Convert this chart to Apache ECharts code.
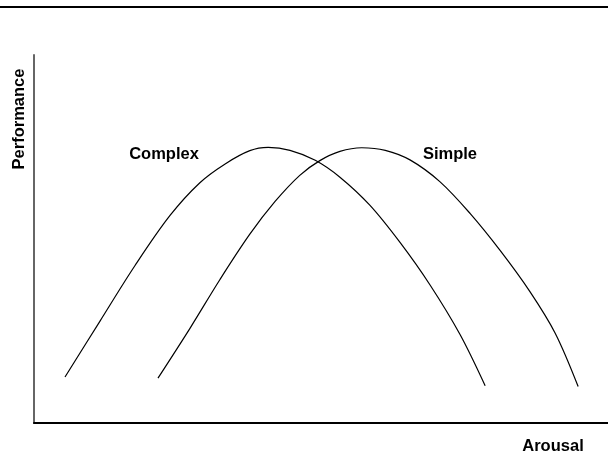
<!DOCTYPE html>
<html>
<head>
<meta charset="utf-8">
<script src="https://cdn.jsdelivr.net/npm/echarts@6/dist/echarts.min.js"></script>
<style>
  html, body { margin: 0; padding: 0; background: #fff; }
  #main { width: 608px; height: 454px; }
</style>
</head>
<body>
<div id="main"></div>
<script>
// arousal (x) and performance (y), both on a 0-100 scale
const complexX = [5.4, 11.5, 17.6, 23.7, 28.9, 33.3, 37.6, 40.8, 44.6, 49.0, 53.3, 58.5, 63.8, 69.0, 74.2, 78.6];
const complexY = [12.5, 27.7, 42.8, 56.4, 65.3, 70.4, 74.0, 74.9, 74.1, 71.4, 66.8, 59.2, 49.0, 37.5, 24.1, 10.1];
const simpleX = [21.6, 27.2, 32.4, 37.6, 42.0, 46.3, 49.8, 53.3, 57.1, 61.2, 65.5, 70.7, 76.0, 81.2, 86.4, 90.8, 94.8];
const simpleY = [12.2, 25.8, 39.0, 51.3, 60.2, 67.3, 71.3, 73.8, 74.8, 74.1, 71.5, 65.6, 56.9, 46.9, 35.7, 24.4, 9.9];

const labelFont = 'bold 16.5px "Liberation Sans", Arial, sans-serif';

const chart = echarts.init(document.getElementById('main'));

const pairs = (xs, ys) => xs.map((x, i) => [x, ys[i]]);

const option = {
  animation: false,
  backgroundColor: '#fff',
  grid: { left: 34, right: 0, top: 55, bottom: 31 },
  xAxis: {
    type: 'value',
    min: 0,
    max: 100,
    axisLine: { lineStyle: { color: '#000', width: 2 } },
    axisTick: { show: false },
    axisLabel: { show: false },
    splitLine: { show: false }
  },
  yAxis: {
    type: 'value',
    min: 0,
    max: 100,
    axisLine: { show: true, lineStyle: { color: '#666', width: 2 } },
    axisTick: { show: false },
    axisLabel: { show: false },
    splitLine: { show: false }
  },
  series: [
    {
      name: 'Complex',
      type: 'line',
      smooth: 0.34,
      showSymbol: false,
      lineStyle: { color: '#000', width: 1.2 },
      data: pairs(complexX, complexY)
    },
    {
      name: 'Simple',
      type: 'line',
      smooth: 0.34,
      showSymbol: false,
      lineStyle: { color: '#000', width: 1.2 },
      data: pairs(simpleX, simpleY)
    }
  ],
  graphic: [
    {
      type: 'line',
      shape: { x1: 0, y1: 7, x2: 608, y2: 7 },
      style: { stroke: '#000', lineWidth: 2 }
    },
    {
      type: 'text',
      x: 19, y: 119,
      rotation: Math.PI / 2,
      style: { text: 'Performance', font: labelFont, fill: '#000', align: 'center', verticalAlign: 'middle' }
    },
    {
      type: 'text',
      x: 164, y: 154,
      style: { text: 'Complex', font: labelFont, fill: '#000', align: 'center', verticalAlign: 'middle' }
    },
    {
      type: 'text',
      x: 450, y: 154,
      style: { text: 'Simple', font: labelFont, fill: '#000', align: 'center', verticalAlign: 'middle' }
    },
    {
      type: 'text',
      x: 553, y: 446,
      style: { text: 'Arousal', font: labelFont, fill: '#000', align: 'center', verticalAlign: 'middle' }
    }
  ]
};

chart.setOption(option);
</script>
</body>
</html>
